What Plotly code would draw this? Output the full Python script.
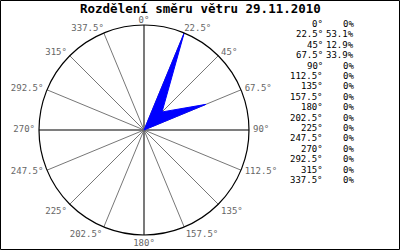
import plotly.graph_objects as go

directions = [0, 22.5, 45, 67.5, 90, 112.5, 135, 157.5, 180, 202.5, 225, 247.5, 270, 292.5, 315, 337.5]
percent = [0, 53.1, 12.9, 33.9, 0, 0, 0, 0, 0, 0, 0, 0, 0, 0, 0, 0]
tick_labels = [f"{d:g}°" for d in directions]
title_text = "Rozdělení směru větru 29.11.2010"

# where each direction label sits relative to its rim point
label_positions = ["top center", "top right", "middle right", "middle right",
                   "middle right", "middle right", "bottom right", "bottom right",
                   "bottom center", "bottom left", "bottom left", "middle left",
                   "middle left", "middle left", "middle left", "top left"]

W, H = 400, 250
cx, cy, R = 144, 130, 105
R2 = R + 4  # slightly larger ring used only to push side/bottom labels off the rim
rmax = max(percent)

fig = go.Figure()

# thicker cardinal spokes
for d in [0, 90, 180, 270]:
    fig.add_trace(go.Scatterpolar(r=[0, rmax], theta=[d, d], mode="lines",
                                  line=dict(color="#6a6a6a", width=1.6),
                                  hoverinfo="skip", showlegend=False))

fig.add_trace(go.Scatterpolar(
    r=percent + [percent[0]], theta=directions + [directions[0]],
    mode="lines", fill="toself", fillcolor="#0000ff",
    line=dict(color="#0000ff", width=1), showlegend=False))

# direction labels around the rim
top_idx = [i for i, p in enumerate(label_positions) if p.startswith("top")]
oth_idx = [i for i, p in enumerate(label_positions) if not p.startswith("top")]
for idx, sub in [(top_idx, "polar"), (oth_idx, "polar2")]:
    fig.add_trace(go.Scatterpolar(
        r=[rmax] * len(idx), theta=[directions[i] for i in idx], mode="text",
        text=[tick_labels[i] for i in idx], textposition=[label_positions[i] for i in idx],
        cliponaxis=False, subplot=sub,
        textfont=dict(family="DejaVu Sans Mono", size=9, color="#666666"),
        hoverinfo="skip", showlegend=False))

ang_common = dict(rotation=90, direction="clockwise", tickmode="array",
                  tickvals=directions, ticktext=tick_labels, showticklabels=False, ticks="")

fig.update_layout(
    width=W, height=H, margin=dict(l=0, r=0, t=0, b=0),
    paper_bgcolor="white", plot_bgcolor="white",
    polar=dict(
        domain=dict(x=[(cx - R) / W, (cx + R) / W], y=[(H - cy - R) / H, (H - cy + R) / H]),
        bgcolor="white",
        radialaxis=dict(visible=False, range=[0, rmax]),
        angularaxis=dict(**ang_common, showline=True, linecolor="black", linewidth=1.2,
                         showgrid=True, gridcolor="#777777", gridwidth=1),
    ),
    polar2=dict(
        domain=dict(x=[(cx - R2) / W, (cx + R2) / W], y=[(H - cy - R2) / H, (H - cy + R2) / H]),
        bgcolor="rgba(0,0,0,0)",
        radialaxis=dict(visible=False, range=[0, rmax]),
        angularaxis=dict(**ang_common, showline=False, showgrid=False),
    ),
    showlegend=False,
)

fig.add_annotation(text=f"<b>{title_text}</b>", x=200 / W, y=1 - 8 / H, xref="paper", yref="paper",
                   showarrow=False, font=dict(family="DejaVu Sans Mono", size=12.5, color="black"),
                   xanchor="center", yanchor="middle")

for i, (d, p) in enumerate(zip(directions, percent)):
    yy = 1 - (24 + i * 10.4) / H
    fig.add_annotation(text=f"{d:g}°", x=325 / W, y=yy, xref="paper", yref="paper",
                       showarrow=False, xanchor="right", yanchor="middle",
                       font=dict(family="DejaVu Sans Mono", size=9, color="black"))
    fig.add_annotation(text=f"{p:g}%", x=356 / W, y=yy, xref="paper", yref="paper",
                       showarrow=False, xanchor="right", yanchor="middle",
                       font=dict(family="DejaVu Sans Mono", size=9, color="black"))

fig.add_shape(type="rect", xref="paper", yref="paper", x0=0.5 / W, y0=0.5 / H, x1=1 - 0.5 / W, y1=1 - 0.5 / H,
              line=dict(color="black", width=1))

fig.write_html("out.html")
